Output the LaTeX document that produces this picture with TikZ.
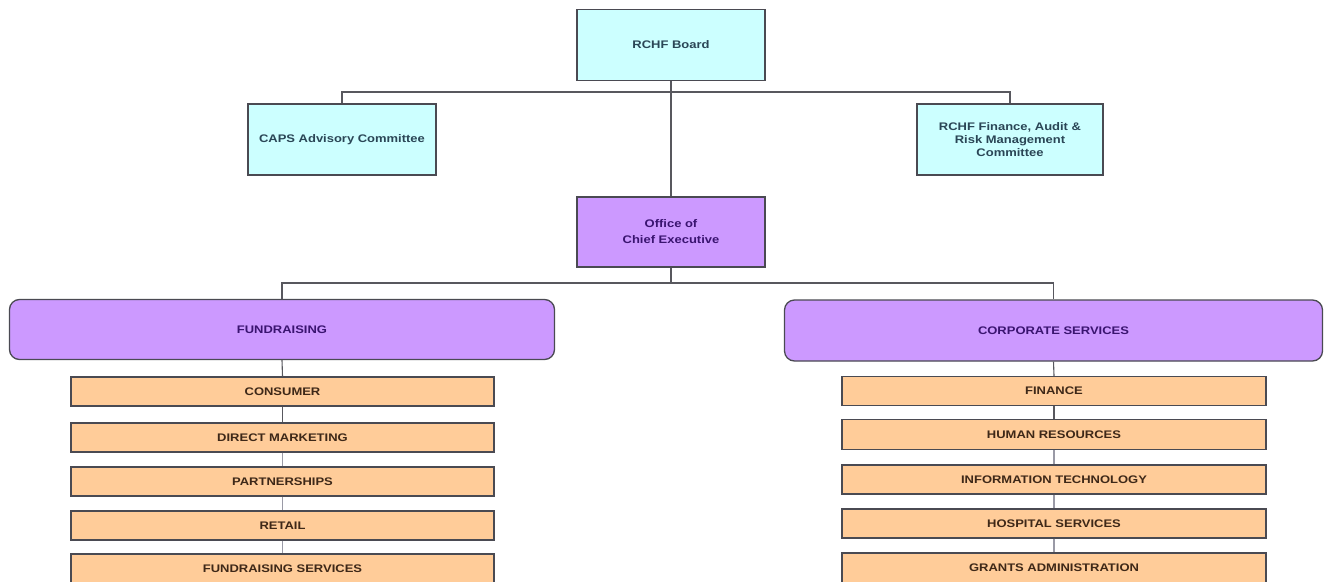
\documentclass[tikz,border=0pt]{standalone}
\usepackage{fontspec}
\setmainfont{Liberation Sans}[FakeStretch=1.18]
\definecolor{cyanfill}{HTML}{CCFFFF}
\definecolor{purplefill}{HTML}{CC99FF}
\definecolor{orangefill}{HTML}{FFCC99}
\definecolor{boxline}{HTML}{4A4A52}
\definecolor{cyantext}{HTML}{2A4656}
\definecolor{purpletext}{HTML}{3A1470}
\definecolor{orangetext}{HTML}{3E2818}
\definecolor{conn}{HTML}{58585E}
\definecolor{connlight}{HTML}{9A9AA6}
\begin{document}
\begin{tikzpicture}[x=1pt,y=-1pt,
  base/.style={draw=boxline,line width=1.3pt,inner sep=0pt,align=center,
    font=\fontsize{11}{13}\selectfont\bfseries},
  topbox/.style={base,fill=cyanfill,text=cyantext,minimum width=188pt,minimum height=71pt},
  ceobox/.style={base,fill=purplefill,text=purpletext,minimum width=188pt,minimum height=70pt},
  divbox/.style={base,fill=purplefill,text=purpletext,rounded corners=10pt,minimum height=60pt},
  unitbox/.style={base,fill=orangefill,text=orangetext,minimum height=29pt},
  link/.style={draw=conn,line width=1.1pt},
  linklight/.style={draw=connlight,line width=1.1pt}]
\useasboundingbox (0,0) rectangle (1324,581);
\fill[white] (0,0) rectangle (1324,581);

% connector junctions
\coordinate (j1) at (671,92);
\coordinate (j2) at (671,283);

% top level
\node[topbox] (board) at (671,45) {RCHF Board};
\node[topbox] (caps) at (342,139.5) {CAPS Advisory Committee};
\node[topbox,minimum width=186pt] (fin) at (1010,139.5) {RCHF Finance, Audit \&\\Risk Management\\Committee};
\node[ceobox,font=\fontsize{11}{16}\selectfont\bfseries] (ceo) at (671,232) {Office of\\Chief Executive};

% divisions
\node[divbox,minimum width=545pt] (fund) at (282,329.5) {FUNDRAISING};
\node[divbox,minimum width=538pt,minimum height=61pt] (corp) at (1053.5,330.5) {CORPORATE SERVICES};

% fundraising units
\node[unitbox,minimum width=423pt] (cons) at (282.5,391.5) {CONSUMER};
\node[unitbox,minimum width=423pt] (dm) at (282.5,437.5) {DIRECT MARKETING};
\node[unitbox,minimum width=423pt] (part) at (282.5,481.5) {PARTNERSHIPS};
\node[unitbox,minimum width=423pt] (ret) at (282.5,525.5) {RETAIL};
\node[unitbox,minimum width=423pt] (fs) at (282.5,568.5) {FUNDRAISING SERVICES};

% corporate units
\node[unitbox,minimum width=424pt] (finu) at (1054,391) {FINANCE};
\node[unitbox,minimum width=424pt,minimum height=30pt] (hr) at (1054,434.5) {HUMAN RESOURCES};
\node[unitbox,minimum width=424pt] (it) at (1054,479.5) {INFORMATION TECHNOLOGY};
\node[unitbox,minimum width=424pt] (hosp) at (1054,523.5) {HOSPITAL SERVICES};
\node[unitbox,minimum width=424pt,minimum height=30pt] (grants) at (1054,568) {GRANTS ADMINISTRATION};

% connectors
\draw[link] (board.south) -- (j1);
\draw[link] (j1) -| (caps.north);
\draw[link] (j1) -| (fin.north);
\draw[link] (j1) -- (ceo.north);
\draw[link] (ceo.south) -- (j2);
\draw[link] (j2) -| (fund.north);
\draw[link] (j2) -| (corp.north);
\draw[link] (fund.south) -- (cons.north);
\draw[link] (cons.south) -- (dm.north);
\draw[linklight] (dm.south) -- (part.north);
\draw[linklight] (part.south) -- (ret.north);
\draw[linklight] (ret.south) -- (fs.north);
\draw[link] (corp.south) -- (finu.north);
\draw[link] (finu.south) -- (hr.north);
\draw[linklight] (hr.south) -- (it.north);
\draw[linklight] (it.south) -- (hosp.north);
\draw[linklight] (hosp.south) -- (grants.north);
\end{tikzpicture}
\end{document}
